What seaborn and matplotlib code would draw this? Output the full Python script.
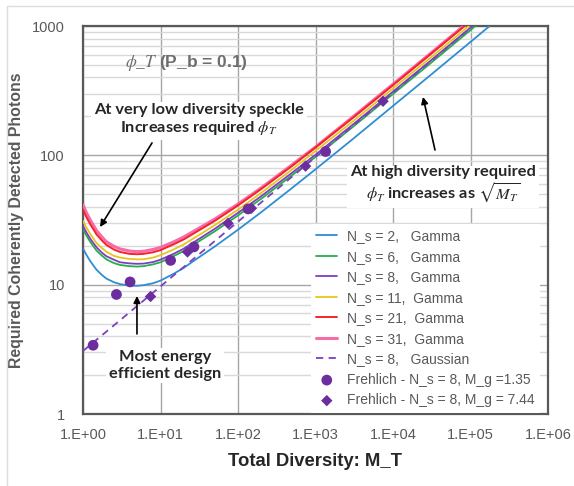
import numpy as np
import pandas as pd
import matplotlib
matplotlib.use("Agg")
import matplotlib.pyplot as plt
from matplotlib.ticker import FixedLocator, NullFormatter, LogLocator
import seaborn as sns

# ---------------- data ----------------
M_T = [1, 1.1, 1.25, 1.5, 1.75, 2, 2.5, 3, 4, 5, 6, 8, 10, 15, 20, 30, 50, 100,
       200, 500, 1000, 3000, 1e4, 3e4, 1e5, 3e5]
ns2_gamma = [19.1, 17.1, 15.1, 13.0, 11.9, 11.15, 10.45, 10.1, 9.85, 9.8, 9.9, 10.25,
             10.75, 12.2, 13.5, 16.0, 19.7, 26.6, 36.4, 56, 78, 133, 241, 414, 753, 1302]
ns6_gamma = [26.9, 24.1, 21.3, 18.3, 16.8, 15.7, 14.7, 14.2, 13.9, 13.8, 13.9, 14.35,
             14.9, 16.7, 18.2, 21.3, 25.8, 34.3, 46.2, 70.3, 97.1, 165, 298, 511, 930, 1608]
ns8_gamma = [28.5, 25.5, 22.5, 19.4, 17.7, 16.6, 15.6, 14.9, 14.6, 14.5, 14.55, 14.95,
             15.6, 17.4, 19.0, 22.2, 27.0, 35.9, 48.4, 73.4, 101, 172, 311, 534, 971, 1680]
ns11_gamma = [31.1, 27.8, 24.5, 20.9, 19.2, 18.0, 16.7, 16.2, 15.8, 15.7, 15.7, 16.2,
              16.9, 18.8, 20.5, 23.8, 28.8, 38.0, 51.3, 77.8, 108, 182, 329, 563, 1024, 1771]
ns21_gamma = [38.0, 33.5, 29.1, 24.4, 22.0, 20.3, 18.7, 17.9, 17.3, 17.2, 17.3, 17.8,
              18.5, 20.6, 22.4, 25.9, 31.1, 41.0, 55.0, 82.9, 115, 194, 349, 600, 1092, 1888]
ns31_gamma = [41.4, 36.3, 31.4, 26.1, 23.4, 21.5, 19.8, 18.9, 18.2, 18.0, 18.1, 18.7,
              19.4, 21.5, 23.4, 26.9, 32.1, 42.0, 56.1, 84.6, 116, 197, 355, 609, 1107, 1914]

M_gauss = [1, 3, 10, 30, 100, 300, 1000, 3000, 1e4, 3e4, 1e5, 3e5]
ns8_gauss = [3.07, 5.3, 9.7, 16.8, 30.7, 53, 97, 168, 305, 530, 965, 1680]

frehlich_135_M = [1.35, 2.7, 4.05, 13.5, 27, 135, 1350]
frehlich_135_y = [3.4, 8.4, 10.5, 15.4, 19.6, 38.5, 107]
frehlich_744_M = [7.44, 22.3, 74.4, 149, 744, 7440]
frehlich_744_y = [8.1, 17.9, 29.8, 39, 82.5, 262]

gamma_labels = ["N_s = 2,   Gamma", "N_s = 6,   Gamma", "N_s = 8,   Gamma",
                "N_s = 11,  Gamma", "N_s = 21,  Gamma", "N_s = 31,  Gamma"]
gauss_label = "N_s = 8,   Gaussian"
fre_labels = ["Frehlich - N_s = 8, M_g =1.35", "Frehlich - N_s = 8, M_g = 7.44"]
x_ticks = [1, 10, 100, 1000, 1e4, 1e5, 1e6]
x_ticklabels = ["1.E+00", "1.E+01", "1.E+02", "1.E+03", "1.E+04", "1.E+05", "1.E+06"]
y_ticks = [1, 10, 100, 1000]
y_ticklabels = ["1", "10", "100", "1000"]

# ---------------- styling ----------------
sns.set_style("white")
plt.rcParams["font.family"] = ["Liberation Sans", "DejaVu Sans"]
plt.rcParams["mathtext.fontset"] = "stix"

gamma_colors = ["#2e8ed3", "#23b04b", "#7d3fbf", "#e8c51c", "#f6222b", "#f76ba6"]
gamma_lw = [1.3, 1.3, 1.3, 1.3, 1.4, 2.2]
marker_color = "#6c2d9f"

fig = plt.figure(figsize=(5.74, 4.86), dpi=100)
ax = fig.add_axes([83 / 574, 1 - 414 / 486, 465 / 574, 388 / 486])

gamma_series = [ns2_gamma, ns6_gamma, ns8_gamma, ns11_gamma, ns21_gamma, ns31_gamma]
frames = []
for lab, vals in zip(gamma_labels, gamma_series):
    frames.append(pd.DataFrame({"M": M_T, "phi": vals, "series": lab}))
gdf = pd.concat(frames, ignore_index=True)

# draw pink first (behind) so red stays on top of it
order = [5, 0, 1, 2, 3, 4]
for i in order:
    sub = gdf[gdf["series"] == gamma_labels[i]]
    sns.lineplot(data=sub, x="M", y="phi", ax=ax, color=gamma_colors[i],
                 lw=gamma_lw[i], label=gamma_labels[i], sort=True, zorder=3)

gauss_df = pd.DataFrame({"M": M_gauss, "phi": ns8_gauss})
sns.lineplot(data=gauss_df, x="M", y="phi", ax=ax, color="#7d3fbf", lw=1.3,
             linestyle=(0, (4, 3)), label=gauss_label, zorder=3)

sns.scatterplot(x=frehlich_135_M, y=frehlich_135_y, ax=ax, marker="o", s=60,
                color=marker_color, edgecolor="none", label=fre_labels[0], zorder=4)
sns.scatterplot(x=frehlich_744_M, y=frehlich_744_y, ax=ax, marker="D", s=34,
                color=marker_color, edgecolor="none", label=fre_labels[1], zorder=4)

ax.set_xscale("log")
ax.set_yscale("log")
ax.set_xlim(1, 1e6)
ax.set_ylim(1, 1000)

ax.xaxis.set_major_locator(FixedLocator(x_ticks))
ax.set_xticklabels(x_ticklabels)
ax.xaxis.set_minor_locator(FixedLocator([]))
ax.yaxis.set_major_locator(FixedLocator(y_ticks))
ax.set_yticklabels(y_ticklabels)
ax.yaxis.set_minor_locator(LogLocator(base=10, subs=np.arange(2, 10)))
ax.yaxis.set_minor_formatter(NullFormatter())

ax.grid(which="major", axis="both", color="#a6a6a6", lw=1.0, zorder=0)
ax.grid(which="minor", axis="y", color="#d9d9d9", lw=1.0, zorder=0)
ax.set_axisbelow(True)
ax.tick_params(axis="both", which="both", length=0, labelsize=10.5,
               labelcolor="#595959")
ax.tick_params(axis="y", pad=13)
ax.tick_params(axis="x", pad=10)
for sp in ax.spines.values():
    sp.set_color("#595959")
    sp.set_linewidth(1.6)

ax.set_xlabel("Total Diversity: M_T", fontsize=13.3, fontweight="bold",
              color="#262626", labelpad=8)
ax.set_ylabel("Required Coherently Detected Photons", fontsize=11.4,
              fontweight="bold", color="#595959", labelpad=6)

# title-like label inside plot
ax.text(3.45, 520, r"$\phi\_T$ (P_b = 0.1)", fontsize=12.5, fontweight="bold",
        color="#6e6e6e", ha="left", va="center", zorder=5)

box = dict(facecolor="white", edgecolor="none", pad=2)
afont = ["Lato", "DejaVu Sans"]
fs_ann = 11.8
ax.text(31.4, 188, "At very low diversity speckle\nIncreases required $\\phi_T$",
        fontsize=fs_ann, fontweight="bold", family=afont, ha="center", va="center",
        linespacing=1.2, bbox=box, zorder=5)
ax.annotate("", xy=(1.66, 27.9), xytext=(7.77, 124.7),
            arrowprops=dict(arrowstyle="-|>", color="black", lw=1.2,
                            mutation_scale=10, shrinkA=0, shrinkB=0), zorder=5)

ax.text(44157, 58.5, "At high diversity required\n$\\phi_T$ increases as $\\sqrt{M_T}$",
        fontsize=fs_ann, fontweight="bold", family=afont, ha="center", va="center",
        linespacing=1.1, bbox=box, zorder=5)
ax.annotate("", xy=(24380, 283), xytext=(34830, 110),
            arrowprops=dict(arrowstyle="-|>", color="black", lw=1.2,
                            mutation_scale=10, shrinkA=0, shrinkB=0), zorder=5)

ax.text(11.4, 2.37, "Most energy\nefficient design",
        fontsize=fs_ann, fontweight="bold", family=afont, ha="center", va="center",
        linespacing=1.2, bbox=box, zorder=5)
ax.annotate("", xy=(4.97, 8.18), xytext=(4.97, 4.16),
            arrowprops=dict(arrowstyle="-|>", color="black", lw=1.2,
                            mutation_scale=10, shrinkA=0, shrinkB=0), zorder=5)

# legend in the desired order
h, l = ax.get_legend_handles_labels()
lab_order = gamma_labels + [gauss_label] + fre_labels
hmap = dict(zip(l, h))
leg = ax.legend([hmap[k] for k in lab_order], lab_order, loc="lower right",
                bbox_to_anchor=(0.983, 0.003), borderaxespad=0, frameon=True,
                fontsize=10, labelcolor="#595959", handlelength=1.5,
                handletextpad=0.7, labelspacing=0.47, borderpad=0.4,
                fancybox=False)
leg.get_frame().set_facecolor("white")
leg.get_frame().set_edgecolor("none")
leg.get_frame().set_alpha(1)
leg.set_zorder(6)

# faint figure border (top and left)
fig.add_artist(plt.Line2D([7 / 574, 1], [1 - 6 / 486, 1 - 6 / 486],
                          transform=fig.transFigure, color="#dddddd", lw=1))
fig.add_artist(plt.Line2D([7 / 574, 7 / 574], [0, 1 - 6 / 486],
                          transform=fig.transFigure, color="#dddddd", lw=1))

fig.savefig("out.png", dpi=100)
